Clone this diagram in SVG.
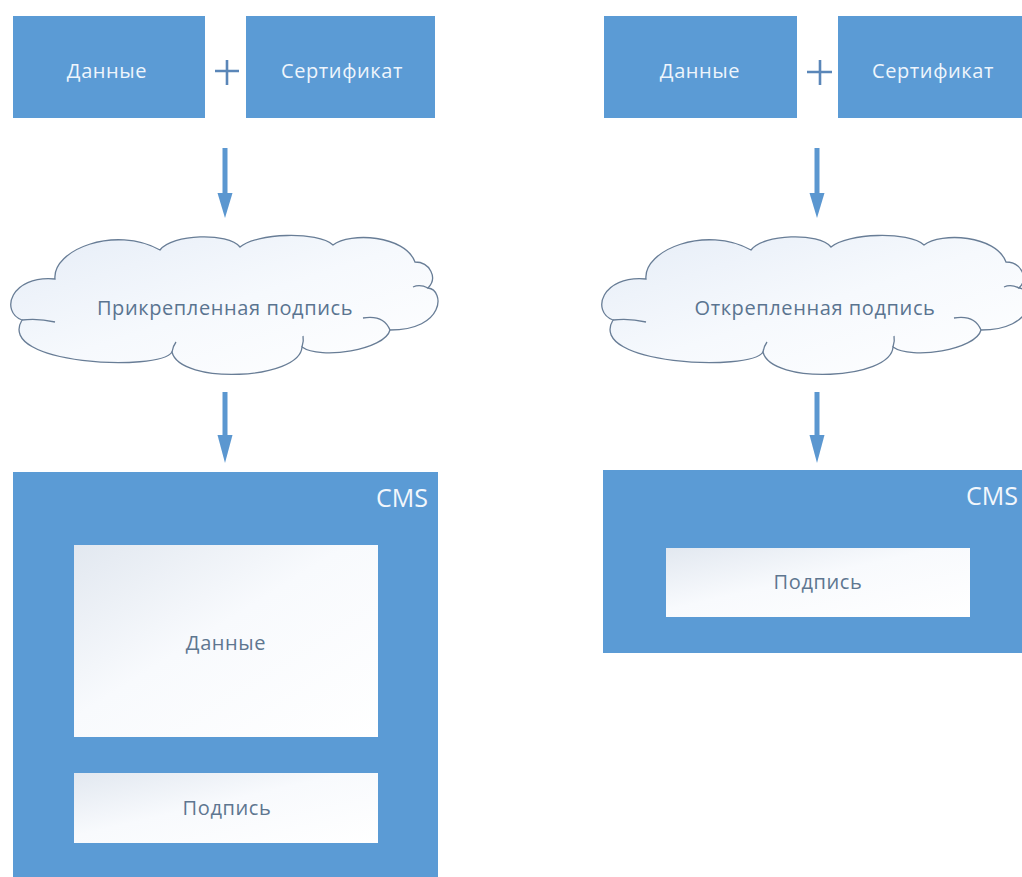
<svg xmlns="http://www.w3.org/2000/svg" width="1022" height="877" viewBox="0 0 1022 877">
<defs>
<style>
.blue{fill:#5b9bd5}
.top{font-family:"Open Sans","Noto Sans","DejaVu Sans",sans-serif;font-size:20px;letter-spacing:0.6px;fill:#eef5fc;text-anchor:middle}
.cms{font-family:"Open Sans","Noto Sans","DejaVu Sans",sans-serif;font-size:25px;fill:#f2f7fc;text-anchor:end}
.inner{fill:url(#innerGrad)}
.itxt{font-family:"Open Sans","Noto Sans","DejaVu Sans",sans-serif;font-size:20px;letter-spacing:0.6px;fill:#5e7690;text-anchor:middle}
.cloud{fill:url(#cloudGrad);stroke:#687d96;stroke-width:1.3}
.tail{fill:none;stroke:#687d96;stroke-width:1.3}
.ctxt{font-family:"Open Sans","Noto Sans","DejaVu Sans",sans-serif;font-size:20px;letter-spacing:0.6px;fill:#5a7490;text-anchor:middle}
.plus{stroke:#5a86b8;stroke-width:2.6;fill:none}
.shaft{stroke:#5b97d0;stroke-width:5}
.head{fill:#5b97d0}
</style>
<linearGradient id="innerGrad" x1="0" y1="0" x2="1" y2="1">
<stop offset="0" stop-color="#e2e8f0"/>
<stop offset="0.45" stop-color="#f8fafd"/>
<stop offset="1" stop-color="#ffffff"/>
</linearGradient>
<linearGradient id="cloudGrad" x1="0" y1="0" x2="1" y2="1">
<stop offset="0" stop-color="#e6edf7"/>
<stop offset="0.5" stop-color="#f6f9fd"/>
<stop offset="1" stop-color="#ffffff"/>
</linearGradient>
<path id="cloudShape" d="M22,320 C0,312 10,275 55,279 C52,250 115,225 160,250 C172,234 228,232 240,247 C256,233 318,231 333,245 C350,232 405,235 415,262 C430,262 438,278 428,288 C445,290 445,330 390,330 C385,350 320,360 302,347 C300,380 180,385 172,352 C160,372 -5,365 22,320 Z"/>
<g id="cloudTails">
<path class="tail" d="M22,320 Q38,318 55,322"/>
<path class="tail" d="M428,288 Q420,284 413,287"/>
<path class="tail" d="M390,330 C385,318 375,316 363,318"/>
<path class="tail" d="M302,347 Q304,341 303,336"/>
<path class="tail" d="M172,352 Q173,346 176,342"/>
</g>
</defs>
<rect width="1022" height="877" fill="#ffffff"/>

<g id="left-data">
<rect class="blue" x="13" y="16" width="192" height="102"/>
<text class="top" x="107" y="78">Данные</text>
</g>
<g id="left-plus">
<path class="plus" d="M215,71 H239 M227,60 V85"/>
</g>
<g id="left-cert">
<rect class="blue" x="246" y="16" width="189" height="102"/>
<text class="top" x="342" y="78">Сертификат</text>
</g>
<g id="left-cloud">
<use href="#cloudShape" class="cloud"/>
<use href="#cloudTails"/>
<text class="ctxt" x="225" y="315">Прикрепленная подпись</text>
</g>
<g id="left-cms">
<rect class="blue" x="13" y="472" width="425" height="405"/>
<text class="cms" x="428" y="507">CMS</text>
<rect class="inner" x="74" y="545" width="304" height="192"/>
<text class="itxt" x="226" y="650">Данные</text>
<rect class="inner" x="74" y="773" width="304" height="70"/>
<text class="itxt" x="227" y="815">Подпись</text>
</g>

<g id="right-data">
<rect class="blue" x="604" y="16" width="193" height="102"/>
<text class="top" x="700" y="78">Данные</text>
</g>
<g id="right-plus">
<path class="plus" d="M807,72 H832 M820,60 V85"/>
</g>
<g id="right-cert">
<rect class="blue" x="838" y="16" width="190" height="102"/>
<text class="top" x="933" y="78">Сертификат</text>
</g>
<g id="right-cloud">
<g transform="translate(591,0)">
<use href="#cloudShape" class="cloud"/>
<use href="#cloudTails"/>
</g>
<text class="ctxt" x="815" y="315">Открепленная подпись</text>
</g>
<g id="right-cms">
<rect class="blue" x="603" y="470" width="425" height="183"/>
<text class="cms" x="1018" y="505">CMS</text>
<rect class="inner" x="666" y="548" width="304" height="69"/>
<text class="itxt" x="818" y="589">Подпись</text>
</g>

<g id="connectors">
<line class="shaft" x1="225" y1="148" x2="225" y2="196"/>
<polygon class="head" points="217.5,193 232.5,193 225,218"/>
<line class="shaft" x1="225" y1="392" x2="225" y2="438"/>
<polygon class="head" points="217.5,435 232.5,435 225,463"/>
<line class="shaft" x1="817" y1="148" x2="817" y2="196"/>
<polygon class="head" points="809.5,193 824.5,193 817,218"/>
<line class="shaft" x1="817" y1="392" x2="817" y2="438"/>
<polygon class="head" points="809.5,435 824.5,435 817,463"/>
</g>
</svg>
